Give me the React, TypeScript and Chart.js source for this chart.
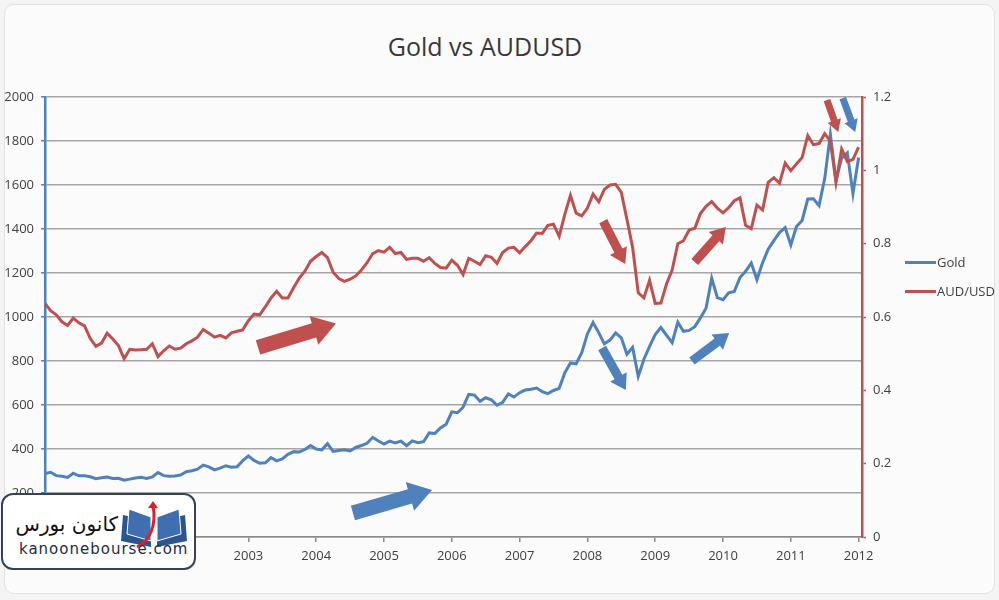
import React, { useEffect, useRef } from 'react';
import Chart from 'chart.js/auto';

// Year labels on the x axis (one tick every 12 monthly points)
const YEARS = ['2000', '2001', '2002', '2003', '2004', '2005', '2006', '2007', '2008', '2009', '2010', '2011', '2012'];

// Gold, month-end, USD/oz (Jan 2000 .. Jan 2012)
const GOLD = [
  288, 294, 279, 276, 271, 290, 278, 278, 274, 265, 269, 273,
  266, 267, 258, 263, 268, 271, 266, 273, 293, 279, 276, 277,
  282, 297, 301, 308, 327, 319, 305, 313, 324, 317, 319, 347,
  368, 348, 335, 337, 361, 346, 355, 376, 388, 386, 398, 416,
  400, 396, 424, 389, 393, 396, 391, 407, 416, 426, 453, 436,
  422, 436, 428, 436, 415, 437, 429, 433, 473, 471, 496, 513,
  569, 565, 590, 648, 645, 617, 633, 624, 599, 612, 650, 636,
  656, 668, 672, 677, 661, 652, 666, 676, 746, 791, 787, 838,
  923, 975, 929, 878, 895, 928, 905, 831, 862, 730, 808, 866,
  920, 952, 917, 883, 976, 935, 939, 956, 996, 1040, 1176, 1088,
  1079, 1110, 1116, 1179, 1208, 1245, 1169, 1246, 1308, 1347, 1384, 1406,
  1327, 1411, 1439, 1536, 1537, 1506, 1629, 1830, 1620, 1722, 1746, 1560,
  1725,
];

// AUD/USD, month-end (Jan 2000 .. Jan 2012)
const AUDUSD = [
  0.637, 0.617, 0.606, 0.587, 0.577, 0.597, 0.584, 0.576, 0.542, 0.520, 0.529, 0.556,
  0.540, 0.522, 0.486, 0.512, 0.510, 0.511, 0.512, 0.527, 0.492, 0.508, 0.521, 0.512,
  0.515, 0.527, 0.535, 0.545, 0.566, 0.556, 0.545, 0.550, 0.543, 0.557, 0.561, 0.565,
  0.590, 0.608, 0.606, 0.628, 0.652, 0.670, 0.652, 0.652, 0.680, 0.706, 0.725, 0.752,
  0.765, 0.776, 0.762, 0.722, 0.705, 0.697, 0.703, 0.712, 0.728, 0.748, 0.773, 0.781,
  0.777, 0.790, 0.773, 0.776, 0.757, 0.760, 0.760, 0.752, 0.762, 0.746, 0.735, 0.733,
  0.755, 0.741, 0.716, 0.760, 0.752, 0.743, 0.767, 0.763, 0.746, 0.776, 0.788, 0.790,
  0.775, 0.792, 0.808, 0.829, 0.828, 0.850, 0.853, 0.820, 0.880, 0.932, 0.883, 0.876,
  0.897, 0.935, 0.914, 0.948, 0.960, 0.962, 0.940, 0.866, 0.790, 0.666, 0.652, 0.700,
  0.637, 0.638, 0.690, 0.728, 0.800, 0.808, 0.837, 0.842, 0.882, 0.902, 0.915, 0.897,
  0.884, 0.898, 0.917, 0.925, 0.850, 0.841, 0.905, 0.892, 0.967, 0.980, 0.965, 1.020,
  0.999, 1.017, 1.035, 1.095, 1.070, 1.073, 1.100, 1.080, 0.967, 1.058, 1.024, 1.030,
  1.063,
];

const SERIES_NAMES = ['Gold', 'AUD/USD'];

// Trend arrows drawn on the chart, in (month index, gold-axis value) coordinates
const ARROWS = [
  { series: 1, from: [37.7, 862], to: [51.5, 970], size: 'large' },
  { series: 0, from: [54.5, 109], to: [68.5, 214], size: 'large' },
  { series: 1, from: [98.8, 1436], to: [102.7, 1241], size: 'medium' },
  { series: 0, from: [98.6, 859], to: [102.8, 668], size: 'medium' },
  { series: 1, from: [115.0, 1250], to: [120.5, 1409], size: 'medium' },
  { series: 0, from: [114.5, 800], to: [121.1, 927], size: 'medium' },
  { series: 1, from: [138.4, 1986], to: [140.4, 1841], size: 'small' },
  { series: 0, from: [141.2, 1995], to: [143.4, 1841], size: 'small' },
];

const BLUE = '#4f81bd';
const RED = '#c0504d';
const COLORS = [BLUE, RED];
const TEXT = '#404040';
const FONT = "'Open Sans', 'DejaVu Sans', sans-serif";

const ARROW_SIZES: Record<string, { sw: number; hw: number; hl: number }> = {
  large: { sw: 7.5, hw: 15, hl: 23 },
  medium: { sw: 4.5, hw: 9.5, hl: 15 },
  small: { sw: 3.5, hw: 7, hl: 12 },
};

const arrowPlugin = {
  id: 'trendArrows',
  afterDatasetsDraw(chart: any) {
    const { ctx, scales } = chart;
    const xs = scales.x;
    const ys = scales.y;
    ARROWS.forEach((a) => {
      const x1 = xs.getPixelForValue(a.from[0]);
      const y1 = ys.getPixelForValue(a.from[1]);
      const x2 = xs.getPixelForValue(a.to[0]);
      const y2 = ys.getPixelForValue(a.to[1]);
      const { sw, hw, hl } = ARROW_SIZES[a.size];
      const ang = Math.atan2(y2 - y1, x2 - x1);
      const len = Math.hypot(x2 - x1, y2 - y1);
      ctx.save();
      ctx.translate(x1, y1);
      ctx.rotate(ang);
      ctx.beginPath();
      ctx.moveTo(0, -sw);
      ctx.lineTo(len - hl, -sw);
      ctx.lineTo(len - hl, -hw);
      ctx.lineTo(len, 0);
      ctx.lineTo(len - hl, hw);
      ctx.lineTo(len - hl, sw);
      ctx.lineTo(0, sw);
      ctx.closePath();
      ctx.fillStyle = COLORS[a.series];
      ctx.fill();
      ctx.restore();
    });
  },
};

function BookIcon() {
  return (
    <svg width="70" height="48" viewBox="0 0 70 48" style={{ position: 'absolute', left: 116, top: 6 }}>
      <path d="M4 14 L32 20 L32 46 L2 40 Z" fill="#2b5590" />
      <path d="M38 20 L66 14 L68 40 L38 46 Z" fill="#2b5590" />
      <path d="M10 8 L32 16 L32 40 L8 33 Z" fill="#3f6fb0" stroke="#ffffff" strokeWidth="1" />
      <path d="M38 16 L60 8 L62 33 L38 40 Z" fill="#3f6fb0" stroke="#ffffff" strokeWidth="1" />
      <path d="M18 46 C30 40 38 26 34 4" fill="none" stroke="#e02020" strokeWidth="3" />
      <path d="M29 7 L34 0 L39 7 Z" fill="#e02020" />
    </svg>
  );
}

export default function App() {
  const canvasRef = useRef<HTMLCanvasElement | null>(null);

  useEffect(() => {
    if (!canvasRef.current) return;
    const goldPoints = GOLD.map((v, i) => ({ x: i, y: v }));
    const audPoints = AUDUSD.map((v, i) => ({ x: i, y: v }));
    const yearTicks = YEARS.map((_, k) => ({ value: k * 12 }));

    const chart = new Chart(canvasRef.current, {
      type: 'line',
      data: {
        datasets: [
          {
            label: SERIES_NAMES[0],
            data: goldPoints,
            borderColor: BLUE,
            backgroundColor: BLUE,
            borderWidth: 3,
            pointRadius: 0,
            tension: 0,
            yAxisID: 'y',
            order: 1,
          },
          {
            label: SERIES_NAMES[1],
            data: audPoints,
            borderColor: RED,
            backgroundColor: RED,
            borderWidth: 3,
            pointRadius: 0,
            tension: 0,
            yAxisID: 'y1',
            order: 0,
          },
        ],
      },
      options: {
        responsive: false,
        animation: false,
        layout: { padding: { top: 97, left: 0, right: 0, bottom: 0 } },
        plugins: {
          legend: { display: false },
          title: { display: false },
          tooltip: { enabled: false },
        },
        scales: {
          x: {
            type: 'linear',
            min: 0,
            max: 144.6,
            afterBuildTicks: (axis: any) => {
              axis.ticks = yearTicks;
            },
            afterFit: (axis: any) => {
              axis.height = 63;
            },
            ticks: {
              callback: (v: any) => YEARS[Math.round(Number(v) / 12)] ?? '',
              color: TEXT,
              font: { family: FONT, size: 13 },
              padding: 6,
              maxRotation: 0,
              autoSkip: false,
            },
            grid: {
              display: true,
              drawOnChartArea: false,
              drawTicks: true,
              tickLength: 5,
              color: '#8a8a8a',
              lineWidth: 1.5,
            },
            border: { display: true, color: '#8a8a8a', width: 1.5 },
          },
          y: {
            type: 'linear',
            position: 'left',
            min: 0,
            max: 2000,
            afterFit: (axis: any) => {
              axis.width = 45;
            },
            ticks: {
              stepSize: 200,
              callback: (v: any) => String(v),
              color: TEXT,
              font: { family: FONT, size: 13 },
              padding: 7,
            },
            grid: {
              color: '#a6a6a6',
              lineWidth: 1.5,
              drawTicks: true,
              tickLength: 4,
              tickColor: BLUE,
              tickWidth: 1.5,
            },
            border: { display: true, color: BLUE, width: 2.5 },
          },
          y1: {
            type: 'linear',
            position: 'right',
            min: 0,
            max: 1.2,
            afterFit: (axis: any) => {
              axis.width = 137;
            },
            ticks: {
              stepSize: 0.2,
              callback: (v: any) => String(Math.round(Number(v) * 10) / 10),
              color: TEXT,
              font: { family: FONT, size: 13 },
              padding: 7,
            },
            grid: {
              drawOnChartArea: false,
              drawTicks: true,
              tickLength: 4,
              tickColor: RED,
              tickWidth: 1.5,
            },
            border: { display: true, color: RED, width: 2.5 },
          },
        },
      },
      plugins: [arrowPlugin],
    });
    return () => chart.destroy();
  }, []);

  return (
    <div
      style={{
        position: 'fixed',
        left: 0,
        top: 0,
        width: 999,
        height: 600,
        background: '#f4f4f4',
        overflow: 'hidden',
        fontFamily: FONT,
      }}
    >
      <div
        style={{
          position: 'absolute',
          left: 4,
          top: 4,
          width: 989,
          height: 588,
          background: '#fbfbfb',
          border: '1px solid #e2e2e2',
          borderRadius: 10,
        }}
      />
      <div
        style={{
          position: 'absolute',
          left: 285,
          top: 30,
          width: 400,
          textAlign: 'center',
          fontSize: 25,
          color: '#383838',
          lineHeight: '32px',
        }}
      >
        Gold vs AUDUSD
      </div>
      <canvas ref={canvasRef} width={999} height={600} style={{ position: 'absolute', left: 0, top: 0 }} />
      {SERIES_NAMES.map((name, k) => (
        <div key={name} style={{ position: 'absolute', left: 905, top: 252 + k * 29, height: 20 }}>
          <div style={{ position: 'absolute', left: 0, top: 8.5, width: 31, height: 3, background: COLORS[k] }} />
          <div style={{ position: 'absolute', left: 32, top: 0, fontSize: 13, lineHeight: '20px', color: TEXT, whiteSpace: 'nowrap' }}>
            {name}
          </div>
        </div>
      ))}
      <div
        style={{
          position: 'absolute',
          left: 1,
          top: 493,
          width: 195,
          height: 77,
          boxSizing: 'border-box',
          border: '2px solid #34435c',
          borderRadius: 12,
          background: '#ffffff',
        }}
      >
        <BookIcon />
        <div
          dir="rtl"
          style={{
            position: 'absolute',
            left: 4,
            top: 16,
            width: 111,
            textAlign: 'right',
            fontFamily: "'DejaVu Sans', sans-serif",
            fontSize: 20,
            lineHeight: '26px',
            color: '#111111',
            whiteSpace: 'nowrap',
          }}
        >
          کانون بورس
        </div>
        <div
          style={{
            position: 'absolute',
            left: 16,
            top: 44,
            fontFamily: "'DejaVu Sans', sans-serif",
            fontSize: 15,
            letterSpacing: 1,
            lineHeight: '20px',
            fontWeight: 400,
            color: '#1d2b44',
            whiteSpace: 'nowrap',
          }}
        >
          kanoonebourse.com
        </div>
      </div>
    </div>
  );
}
